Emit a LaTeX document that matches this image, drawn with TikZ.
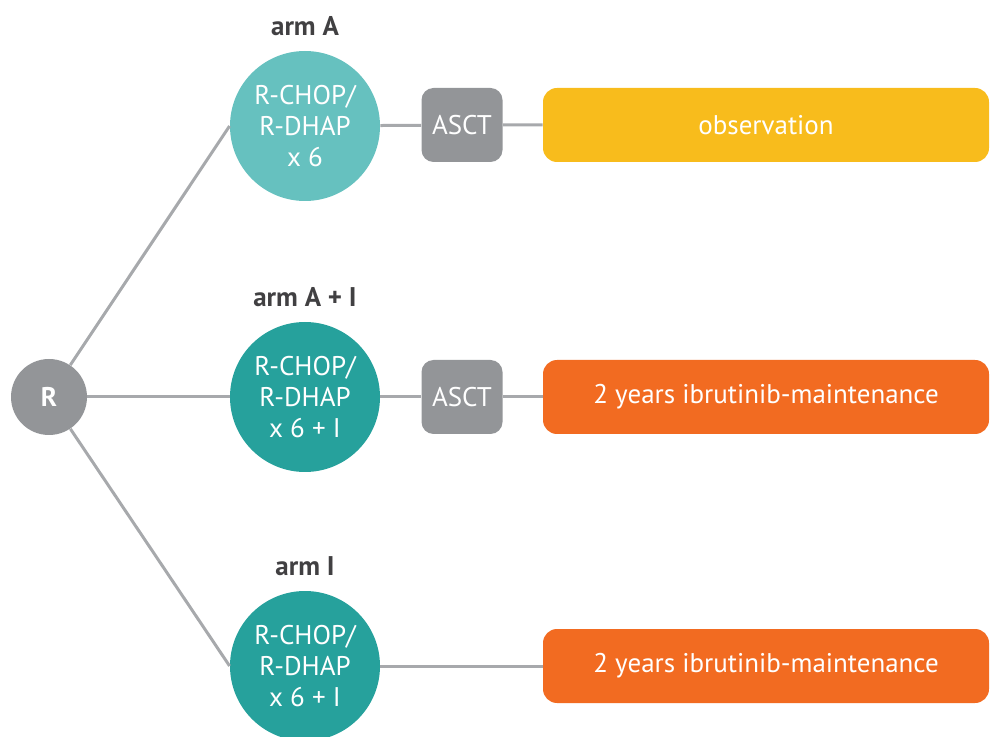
\documentclass[tikz,border=0pt]{standalone}
\usepackage{fontspec}
\setmainfont{PT Sans}
\usetikzlibrary{positioning}
\definecolor{tealA}{HTML}{66C1BF}
\definecolor{tealB}{HTML}{26A19C}
\definecolor{stepgray}{HTML}{939598}
\definecolor{linegray}{HTML}{A7A9AC}
\definecolor{obsyellow}{HTML}{F8BC1C}
\definecolor{maintorange}{HTML}{F26B21}
\definecolor{labelgray}{HTML}{414042}
\tikzset{
	arm/.style={circle,minimum size=75pt,inner sep=0pt,text=white,align=center,
		font=\fontsize{13.5}{15.5}\selectfont},
	asct/.style={rounded corners=6pt,fill=stepgray,text=white,minimum width=40.5pt,
		minimum height=37pt,inner sep=0pt,font=\fontsize{13.5}{15}\selectfont},
	followup/.style={rounded corners=7pt,minimum width=223pt,minimum height=37pt,
		inner sep=0pt,text=white,font=\fontsize{13.5}{15}\selectfont},
	armlabel/.style={text=labelgray,inner sep=0pt,font=\bfseries\fontsize{13.5}{15}\selectfont},
	link/.style={draw=linegray,line width=1.5pt}
}
\begin{document}
\begin{tikzpicture}[x=0.5pt,y=-0.5pt]
\useasboundingbox (0,0) rectangle (991,737);
% randomisation
\node[circle,fill=stepgray,minimum size=38pt,inner sep=0pt,text=white,
	font=\bfseries\fontsize{13.5}{15}\selectfont] (R) at (49,397) {R};
% induction
\node[arm,fill=tealA] (armA) at (305,126) {R-CHOP/\\R-DHAP\\x 6};
\node[arm,fill=tealB] (armAI) at (305,397) {R-CHOP/\\R-DHAP\\x 6 + I};
\node[arm,fill=tealB] (armI) at (305,666) {R-CHOP/\\R-DHAP\\x 6 + I};
\node[armlabel,above=7pt of armA] (labA) {arm A};
\node[armlabel,above=7pt of armAI] (labAI) {arm A + I};
\node[armlabel,above=7pt of armI] (labI) {arm I};
% transplant
\node[asct] (asctA) at (462,125) {ASCT};
\node[asct] (asctAI) at (462,397) {ASCT};
% follow-up
\node[followup,fill=obsyellow] (obs) at (766,125) {observation};
\node[followup,fill=maintorange] (maintAI) at (766,397) {2 years ibrutinib-maintenance};
\node[followup,fill=maintorange] (maintI) at (766,666) {2 years ibrutinib-maintenance};
% connectors
\draw[link] (R) -- (armA.west);
\draw[link] (R) -- (armAI.west);
\draw[link] (R) -- (armI.west);
\draw[link] (armA) -- (asctA) -- (obs);
\draw[link] (armAI) -- (asctAI) -- (maintAI);
\draw[link] (armI) -- (maintI);
\end{tikzpicture}
\end{document}
